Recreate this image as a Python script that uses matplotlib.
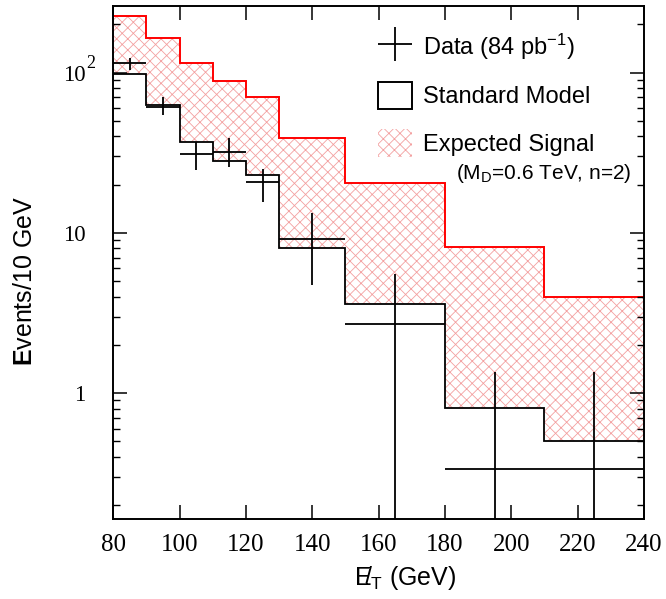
import numpy as np
import matplotlib
matplotlib.use('Agg')
import matplotlib.pyplot as plt
from matplotlib.lines import Line2D
from matplotlib.patches import Rectangle

plt.rcParams['mathtext.fontset'] = 'custom'
plt.rcParams['mathtext.rm'] = 'Liberation Sans'
plt.rcParams['mathtext.it'] = 'Liberation Sans'
plt.rcParams['mathtext.bf'] = 'Liberation Sans:bold'
plt.rcParams['hatch.linewidth'] = 0.6

# bin edges (GeV)
edges = [80, 90, 100, 110, 120, 130, 150, 180, 210, 240]
# Standard Model expectation per bin
sm = [98, 63, 37, 28, 23, 8.0, 3.6, 0.81, 0.50]
# SM + expected signal per bin
signal = [226, 165, 115, 88, 70, 39, 20.4, 8.1, 4.0]

# data points
data_x = [85, 95, 105, 115, 125, 140, 165, 195, 225]
data_xerr = [5, 5, 5, 5, 5, 10, 15, 15, 15]
data_y = [114, 61, 31, 32, 20.6, 9.2, 2.7, 0.336, 0.336]
data_hi = [124, 70, 36.6, 38.8, 25, 13.2, 5.5, 1.35, 1.35]
data_lo = [103, 54, 24.8, 25.9, 15.5, 4.7, 0, 0, 0]

pink = '#f3a0a0'
hatch = 'xxx'

fig = plt.figure(figsize=(6.66, 5.99), dpi=100)
ax = fig.add_axes([0.170, 0.1336, 0.797, 0.8564])
ax.set_yscale('log')

ax.stairs(signal, edges, baseline=sm, fill=True, facecolor='none',
          edgecolor=pink, hatch=hatch, linewidth=0)
ax.stairs(signal, edges, baseline=None, color='red', linewidth=1.4)
ax.stairs(sm, edges, baseline=None, color='black', linewidth=1.3)

y = np.array(data_y)
yerr = [y - np.array(data_lo), np.array(data_hi) - y]
ax.errorbar(data_x, data_y, xerr=data_xerr, yerr=yerr, fmt='none',
            ecolor='black', elinewidth=1.3, capsize=0)

ax.set_xlim(80, 240)
ax.set_ylim(0.164, 260)

ax.set_xticks(range(80, 241, 20))
ax.set_xticklabels([str(v) for v in range(80, 241, 20)],
                   family='Liberation Serif', fontsize=18)
ax.set_yticks([1, 10, 100])
ax.set_yticklabels(['1', '10', '10'], family='Liberation Serif', fontsize=16.5)
# exponent of the 10^2 label hangs to the right of "10"
ax.annotate('2', xy=(0, 100), xycoords=('axes fraction', 'data'),
            xytext=(-19.5, 3), textcoords='offset points',
            family='Liberation Serif', fontsize=13, ha='left', va='baseline')
ax.yaxis.set_minor_locator(matplotlib.ticker.LogLocator(base=10, subs=np.arange(2, 10)))
ax.yaxis.set_minor_formatter(matplotlib.ticker.NullFormatter())
ax.tick_params(which='major', direction='in', length=10, width=1.1, top=True, right=True)
ax.tick_params(which='minor', direction='in', length=5, width=1.0, top=True, right=True)
ax.tick_params(axis='x', which='major', pad=11)
ax.tick_params(axis='y', which='major', pad=20)
for s in ax.spines.values():
    s.set_linewidth(1.4)

ax.set_ylabel(r'$\mathbf{E}$vents/10 GeV', family='Liberation Sans', fontsize=18)
ax.yaxis.set_label_coords(-0.143, 0.464)
ax.set_xlabel(r'$/\!\!\!\!\!E_{\rm T}$ (GeV)', family='Liberation Sans', fontsize=18)
ax.xaxis.set_label_coords(0.552, -0.088)

handles = [
    Line2D([], [], marker='+', markersize=25, mew=1.3, color='black', linestyle='none'),
    Rectangle((0, 0), 1, 1, facecolor='white', edgecolor='black', linewidth=1.4),
    Rectangle((0, 0), 1, 1, facecolor='none', edgecolor=pink, hatch=hatch, linewidth=0),
]
labels = [r'Data (84 pb$^{-1}$)', 'Standard Model', 'Expected Signal']
ax.legend(handles, labels, loc='upper left', bbox_to_anchor=(0.499, 0.950),
          frameon=False, prop={'family': 'Liberation Sans', 'size': 17},
          handlelength=1.44, handleheight=1.40, handletextpad=0.45,
          labelspacing=0.85, borderpad=0, borderaxespad=0)
ax.text(0.645, 0.674, r'(M$_{\rm D}$=0.6 TeV, n=2)', transform=ax.transAxes,
        family='Liberation Sans', fontsize=15, va='center', ha='left')

fig.savefig('out.png', dpi=100)
